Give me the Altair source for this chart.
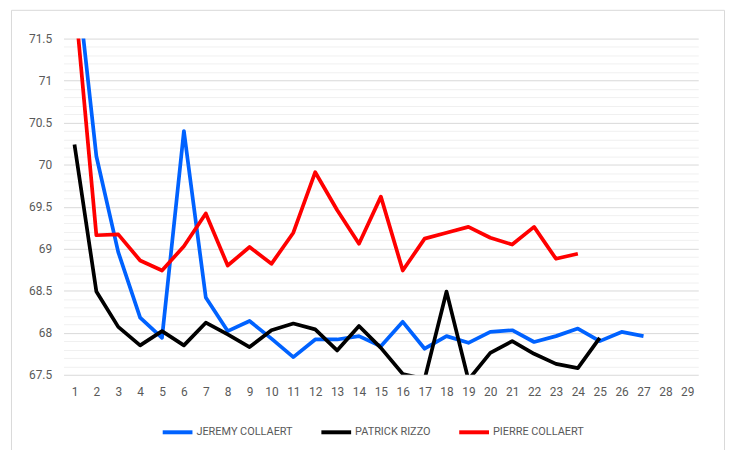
import altair as alt
import pandas as pd

rounds = list(range(1, 30))
jeremy = [72.47, 70.10, 68.96, 68.18, 67.94, 70.40, 68.42, 68.02, 68.14, 67.93,
          67.71, 67.92, 67.92, 67.96, 67.84, 68.13, 67.81, 67.96, 67.88, 68.01,
          68.03, 67.89, 67.96, 68.05, 67.90, 68.01, 67.96]
patrick = [70.24, 68.49, 68.07, 67.85, 68.02, 67.85, 68.12, 67.98, 67.83, 68.03,
           68.11, 68.04, 67.79, 68.08, 67.82, 67.51, 67.45, 68.49, 67.44, 67.76,
           67.90, 67.75, 67.63, 67.58, 67.94]
pierre = [72.02, 69.16, 69.17, 68.86, 68.74, 69.03, 69.42, 68.80, 69.02, 68.82,
          69.19, 69.91, 69.46, 69.06, 69.62, 68.74, 69.12, 69.19, 69.26, 69.13,
          69.05, 69.26, 68.88, 68.94]
names = ["JEREMY COLLAERT", "PATRICK RIZZO", "PIERRE COLLAERT"]
colors = ["#0062ff", "#000000", "#ff0000"]
y_ticks = [round(67.5 + 0.1 * i, 1) for i in range(41)]

rows = []
for name, vals in zip(names, [jeremy, patrick, pierre]):
    for r, v in zip(rounds, vals):
        rows.append({"round": r, "value": v, "player": name})
df = pd.DataFrame(rows)

major = "abs(datum.value*2 - round(datum.value*2)) < 0.001"

lines = alt.Chart(df).mark_line(strokeWidth=3.75, clip=True, strokeJoin="round").encode(
    x=alt.X("round:O", sort=rounds, scale=alt.Scale(domain=rounds),
            axis=alt.Axis(title=None, labelAngle=0, ticks=False, domain=False, grid=False,
                          labelPadding=12, labelFontSize=12, labelColor="#595959",
                          labelFont="Roboto")),
    y=alt.Y("value:Q", scale=alt.Scale(domain=[67.5, 71.5], nice=False, zero=False),
            axis=alt.Axis(title=None, values=y_ticks, ticks=False, domain=False, grid=True,
                          gridColor={"condition": {"test": major, "value": "#d9d9d9"},
                                     "value": "#f0f0f0"},
                          labelExpr=f"{major} ? format(datum.value, '~g') : ''",
                          labelOverlap=False, labelPadding=12, labelFontSize=12,
                          labelColor="#595959", labelFont="Roboto")),
    color=alt.Color("player:N", scale=alt.Scale(domain=names, range=colors),
                    legend=alt.Legend(title=None, orient="none", direction="horizontal",
                                      legendX=98, legendY=380,
                                      symbolType="stroke", symbolSize=900,
                                      symbolStrokeWidth=4, labelFontSize=11,
                                      labelColor="#595959", labelFont="Roboto",
                                      columnPadding=20, labelOffset=2)),
    order=alt.Order("round:Q"),
)

frame = alt.Chart(pd.DataFrame({"k": [0]})).mark_rect(
    fill=None, stroke="#d9d9d9", strokeWidth=1, clip=False
).encode(x=alt.value(-52.5), x2=alt.value(666.5), y=alt.value(-28.5), y2=alt.value(500))

chart = alt.layer(frame, lines).properties(
    width=640, height=339,
    padding={"left": 56, "top": 29, "right": 27, "bottom": 74},
    autosize=alt.AutoSizeParams(type="none"),
    background="white",
).configure_view(stroke=None)

chart.save("out.html", embed_options={"renderer": "svg", "actions": False})
